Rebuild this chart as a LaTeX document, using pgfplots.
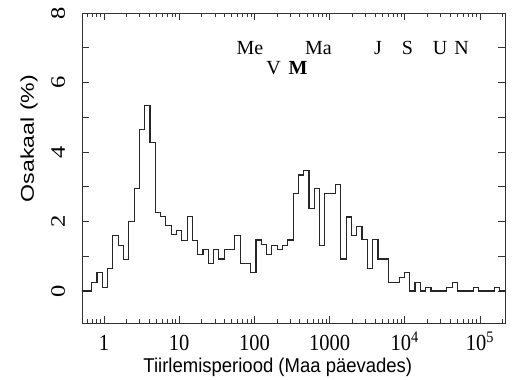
\documentclass[border=0pt]{standalone}
\usepackage{pgfplots}
\pgfplotsset{compat=1.18}
\usepackage{fontspec}
\setmainfont{Liberation Serif}
\newfontfamily\labelfont{Liberation Sans}

\pgfplotstableread{
lx y
-0.4000 0
-0.1636 0.24
-0.0931 0.53
-0.0226 0.09
0.0478 0.66
0.1183 1.59
0.1888 1.32
0.2593 0.91
0.3298 1.99
0.4002 2.94
0.4707 4.66
0.5412 5.34
0.6117 4.27
0.6822 2.25
0.7526 2.14
0.8231 1.88
0.8936 1.63
0.9641 1.73
1.0346 1.45
1.1050 2.14
1.1755 1.46
1.2460 1.06
1.3165 1.20
1.3870 0.80
1.4574 1.20
1.5279 0.92
1.5984 1.20
1.6689 1.20
1.7394 1.59
1.8098 0.80
1.8803 0.80
1.9508 0.53
2.0213 1.47
2.0918 1.33
2.1622 1.06
2.2327 1.32
2.3032 1.20
2.3737 1.32
2.4442 1.47
2.5146 2.80
2.5851 3.34
2.6556 3.48
2.7261 2.38
2.7966 2.94
2.8670 1.32
2.9375 2.80
3.0080 2.80
3.0785 3.07
3.1490 0.92
3.2194 2.13
3.2899 1.60
3.3604 1.85
3.4309 1.48
3.5014 0.66
3.5718 1.48
3.6423 0.92
3.7128 0.92
3.7833 0.25
3.8538 0.25
3.9242 0.40
3.9947 0.53
4.0652 0
4.1357 0.25
4.2062 0
4.2766 0.11
4.3471 0
4.4176 0
4.4881 0
4.5586 0.11
4.6290 0.24
4.6995 0
4.7700 0
4.8405 0
4.9110 0.11
4.9814 0
5.0519 0
5.1224 0
5.1929 0.11
5.2634 0
5.4000 0
}\histdata

\begin{document}
\begin{tikzpicture}
\begin{axis}[
  scale only axis,
  width=423bp, height=310bp,
  xmin=-0.2926, xmax=5.332,
  ymin=-0.92, ymax=8,
  axis line style={black!80, line width=0.9bp},
  tick align=inside,
  major tick length=7bp,
  minor tick length=4bp,
  every tick/.style={black!80, line width=0.8bp},
  xtick={0,1,2,3,4,5},
  xticklabels={1,10,100,1000,10\textsuperscript{4},10\textsuperscript{5}},
  minor xtick={-0.2218,-0.1549,-0.0969,-0.0458,
    0.3010,0.4771,0.6021,0.6990,0.7782,0.8451,0.9031,0.9542,
    1.3010,1.4771,1.6021,1.6990,1.7782,1.8451,1.9031,1.9542,
    2.3010,2.4771,2.6021,2.6990,2.7782,2.8451,2.9031,2.9542,
    3.3010,3.4771,3.6021,3.6990,3.7782,3.8451,3.9031,3.9542,
    4.3010,4.4771,4.6021,4.6990,4.7782,4.8451,4.9031,4.9542,
    5.3010},
  ytick={0,1,...,8},
  yticklabels={0,,2,,4,,6,,8},
  tick label style={font=\fontsize{20.5bp}{24bp}\selectfont, inner sep=0.5bp},
  xticklabel style={anchor=base, yshift=-27.5bp, yscale=1.12},
  yticklabel style={xshift=-17bp, rotate=90, anchor=base, xscale=1.2},
  xlabel={Tiirlemisperiood (Maa päevades)},
  ylabel={Osakaal (\%)},
  xlabel style={at={(axis description cs:0.463,-0.160)}, anchor=base, inner sep=0.5bp,
    font=\labelfont\fontsize{18.5bp}{22bp}\selectfont, yscale=1.08},
  ylabel style={at={(axis description cs:-0.1135,0.595)}, rotate=0, anchor=base, inner sep=0.5bp,
    font=\labelfont\fontsize{18.5bp}{22bp}\selectfont, xscale=1.25},
]
\addplot[const plot, no marks, black!85, line width=1.15bp] table[x=lx, y=y] {\histdata};

\begin{scope}[every node/.style={font=\fontsize{20bp}{24bp}\selectfont, anchor=center}]
\node at (axis cs:1.941,7.0) {Me};
\node at (axis cs:2.852,7.0) {Ma};
\node at (axis cs:3.645,7.0) {J};
\node at (axis cs:4.035,7.0) {S};
\node at (axis cs:4.470,7.0) {U};
\node at (axis cs:4.755,7.0) {N};
\node at (axis cs:2.255,6.42) {V};
\node at (axis cs:2.580,6.42) {\bfseries M};
\end{scope}
\end{axis}
\pgfresetboundingbox
\path (current axis.south west) ++(-82bp,-57bp) rectangle ++(517bp,380bp);
\end{tikzpicture}
\end{document}
